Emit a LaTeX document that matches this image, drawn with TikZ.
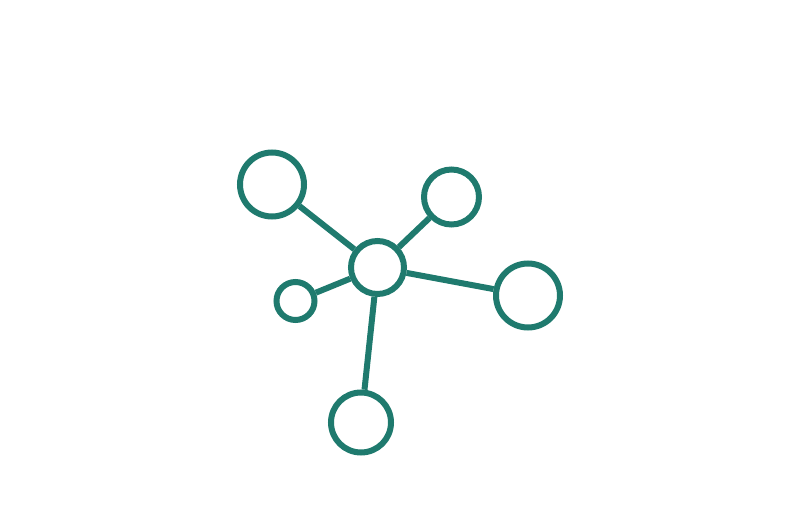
\documentclass[tikz,border=0pt]{standalone}
\definecolor{teal1}{RGB}{31,122,110}
\begin{document}
\begin{tikzpicture}[x=1pt,y=-1pt,
  hub/.style={circle,draw=teal1,line width=6pt,inner sep=0pt,fill=white},
  link/.style={draw=teal1,line width=6pt}]
\useasboundingbox (0,0) rectangle (801,532);
\node[hub,minimum size=53pt] (c) at (377.5,267.5) {};
\node[hub,minimum size=64pt] (tl) at (272,184.5) {};
\node[hub,minimum size=55pt] (tr) at (451.5,197) {};
\node[hub,minimum size=64pt] (r) at (528,295.5) {};
\node[hub,minimum size=38pt] (s) at (295.5,301) {};
\node[hub,minimum size=60pt] (b) at (361,422.5) {};
\draw[link] (c) -- (tl);
\draw[link] (c) -- (tr);
\draw[link] (c) -- (r);
\draw[link] (c) -- (s);
\draw[link] (c) -- (b);
\end{tikzpicture}
\end{document}
